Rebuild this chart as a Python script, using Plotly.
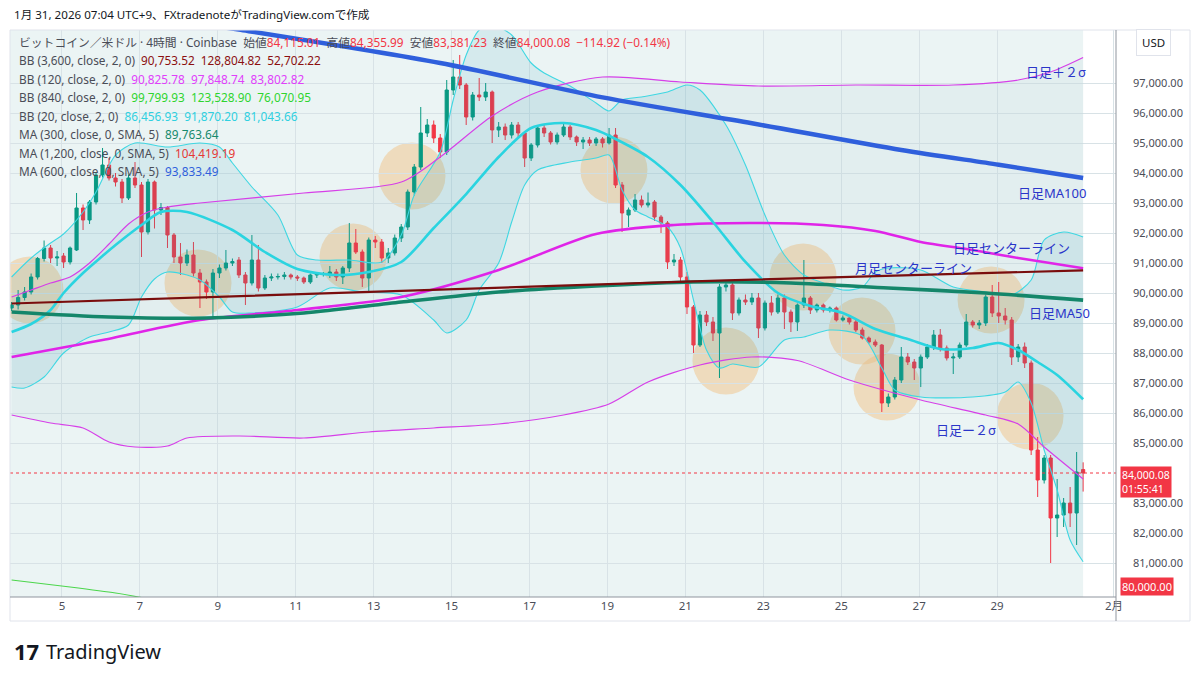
import plotly.graph_objects as go
import pandas as pd

# ---------------- data ----------------
bar_times = pd.date_range("2026-01-03 17:00", periods=166, freq="4h")

opens = [89500,
 89600,89850,90034,90534,91150,91500,91167,91234,91034,91434,
 92834,92434,93034,93934,94267,93834,93700,93167,93834,93600,
 92034,93700,92767,92850,91934,91200,91000,91267,90667,90367,
 90034,90667,90834,91000,91100,90600,90334,91100,90167,90500,
 90534,90550,90600,90534,90500,90367,90600,90634,90600,90700,
 90534,90834,91667,91367,90500,91767,91700,91167,91334,91834,
 92200,93367,94200,95334,95600,95167,94700,96767,97200,96934,
 95867,96600,96534,96700,95434,95534,95267,95600,95334,94500,
 94934,95500,95334,95034,95267,95534,95200,95034,95100,95000,
 95134,95000,95267,93600,92600,92767,93100,92934,93034,92534,
 92334,91034,91100,90534,89534,88267,89267,89034,88667,90200,
 90267,89334,89767,89700,89834,88834,89667,89367,89834,89367,
 89034,89600,89834,89434,89600,89434,89500,89100,89167,89034,
 88767,88500,88367,88267,86334,86534,87100,87867,87700,87500,
 87867,88200,88600,88167,87834,87867,88267,89034,88934,89000,
 89867,89334,89234,89100,87867,88200,87667,84767,83767,84500,
 82500,82600,83000,82667,84115.01]
highs = [89700,
 90100,90200,90650,91200,91750,91600,91400,91334,91550,93334,
 92950,93100,94000,94834,94500,94000,93800,93950,94367,93700,
 93800,93750,93000,92900,92000,91667,91450,91700,90800,90450,
 90800,90950,91434,91150,91200,90700,91934,91600,90600,90650,
 90650,90700,90650,90600,90550,90650,90700,90700,90900,90800,
 90900,92334,92134,91450,91850,91900,91800,91500,91950,92300,
 93450,94300,96200,95800,95750,95300,97100,97767,97934,97000,
 96700,97167,97000,96750,95700,95650,95700,95700,95400,95000,
 95600,95600,95400,95350,95650,95600,95250,95200,95200,95200,
 95200,95500,95500,93700,92850,93300,93250,93350,93100,92600,
 92400,91300,91200,90700,89600,89400,89400,89200,90300,90400,
 90350,89850,89950,90000,90000,89750,89900,89950,89950,89450,
 89650,91100,89900,89650,89650,89550,89550,89250,89200,89100,
 88850,88550,88450,88300,86650,87200,88200,88000,87800,87950,
 88300,88767,88800,88250,88000,88350,89300,89100,89100,89950,
 90267,90367,89500,89200,88300,88350,87750,85200,84600,84600,
 83800,83167,83534,84700,84355.99]
lows = [89400,
 89450,89750,89950,90450,91050,91000,90900,90834,90950,91400,
 92100,92300,92950,93850,93750,93550,93000,93100,93500,91200,
 91950,92150,92600,91500,91000,90600,90900,90550,89500,89800,
 89200,90500,90750,90900,90500,89600,90250,90050,90100,90400,
 90450,90450,90450,90400,90300,90300,90500,90550,90500,90400,
 90300,90700,91300,90200,90050,91500,91000,91000,91250,91700,
 92100,93250,94100,95200,95000,94500,94600,96600,96800,95600,
 95750,96400,96400,95000,95200,95100,95150,95200,94200,94400,
 94850,95200,94950,94950,95200,95100,94900,94800,94900,94900,
 94850,94950,93500,92034,92200,92700,92850,92850,92400,92000,
 90800,90900,90400,89300,88000,88200,88900,88400,87167,90050,
 89100,89250,89600,89600,88500,88750,89250,89300,88800,88700,
 88734,89500,89300,89350,89350,89350,89050,89050,88950,88700,
 88450,88300,88200,86034,86200,86450,87000,87600,87100,86867,
 87800,88100,88050,87750,87300,87800,88200,88850,88800,88900,
 89200,89000,88950,87600,87700,87500,84600,83200,83650,81000,
 81867,82200,82200,81600,83381.23]
closes = [89600,
 89850,90034,90534,91150,91500,91167,91200,91034,91500,92834,
 92434,93034,93934,94267,93834,93700,93167,93834,93600,92034,
 93700,92767,92850,91934,91200,91000,91267,90667,90367,90034,
 90667,90834,91000,91050,90600,90334,91100,90167,90500,90534,
 90550,90600,90534,90500,90367,90600,90634,90650,90700,90534,
 90834,91667,91367,90500,91767,91700,91167,91334,91834,92200,
 93367,94200,95334,95600,95167,94700,96767,97200,96934,95867,
 96600,96534,96700,95434,95534,95267,95600,95334,94500,94934,
 95500,95334,95034,95267,95534,95200,95034,95100,95000,95134,
 95000,95267,93600,92667,92767,93100,92934,93000,92534,92334,
 91034,91100,90534,89534,88267,89267,89034,88667,90200,90267,
 89334,89767,89700,89834,88834,89667,89367,89834,89367,89034,
 89600,89834,89434,89600,89434,89500,89100,89167,89034,88767,
 88500,88367,88267,86334,86534,87100,87867,87700,87500,87867,
 88200,88600,88167,87834,87867,88267,89034,88934,89000,89867,
 89334,89234,89100,87867,88200,87667,84767,83767,84500,82500,
 82600,83000,82667,84034,84000.08]

# indicator readings (bar index -> price)
ma600_idx = [0, 35, 66, 91, 114, 137, 152, 165]
ma600_val = [99930, 98780, 97667, 96520, 95657, 94767, 94277, 93834]

bb3600_mid_idx = [0, 60, 110, 165]
bb3600_mid_val = [89650, 90070, 90420, 90754]

ma300_idx = [0, 15, 30, 45, 60, 75, 90, 105, 120, 135, 150, 165]
ma300_val = [89367, 89200, 89167, 89334, 89700, 90034, 90234, 90367, 90334, 90167, 90000, 89764]

bb120_mid_idx = [0, 14, 29, 44, 60, 75, 90, 102, 114, 125, 133, 140, 148, 155, 165]
bb120_mid_val = [87867, 88434, 89100, 89434, 89867, 90767, 91967, 92267, 92334, 92267, 92067, 91700, 91434, 91167, 90826]

bb120_up_idx = [0, 3, 6, 9, 12, 15, 18, 21, 24, 29, 45, 60, 66, 74, 81, 91, 103, 115, 130, 145, 155, 160, 165]
bb120_up_val = [89867, 90100, 90334, 90534, 91000, 91634, 92300, 92700, 92867, 93000, 93334, 93700, 94534, 95900, 96700, 97200, 97034, 96900, 96934, 96934, 97100, 97367, 97849]

bb120_lo_idx = [0, 6, 11, 15, 19, 24, 27, 35, 45, 55, 65, 75, 85, 92, 98, 106, 114, 121, 129, 140, 150, 155, 159, 165]
bb120_lo_val = [85934, 85667, 85500, 85034, 84867, 84900, 85167, 85234, 85167, 85367, 85500, 85634, 85934, 86300, 87034, 87600, 87867, 87750, 87100, 86434, 85934, 85634, 84867, 83803]

bb20_mid_idx = [0, 3, 6, 8, 11, 14, 16, 20, 23, 27, 34, 39, 44, 50, 55, 60, 65, 70, 75, 80, 85, 90, 93, 98, 103, 108, 113, 118, 123, 128, 133, 138, 143, 148, 152, 155, 158, 161, 165]
bb20_mid_val = [88700, 88967, 89434, 90000, 90667, 91234, 91600, 92267, 92700, 92700, 92100, 91367, 90800, 90600, 90700, 91034, 92167, 93300, 94534, 95500, 95667, 95434, 95134, 94534, 93600, 92367, 91034, 90000, 89567, 89334, 88800, 88467, 88134, 88167, 88334, 88100, 87700, 87267, 86457]

bb20_up_idx = [0, 3, 6, 8, 11, 13, 16, 19, 24, 29, 32, 34, 37, 41, 44, 47, 52, 57, 60, 62, 66, 68, 70, 72, 74, 77, 80, 82, 86, 90, 92, 94, 97, 101, 104, 106, 110, 113, 116, 119, 122, 125, 128, 131, 133, 135, 140, 145, 150, 154, 157, 159, 162, 165]
bb20_up_val = [90534, 91167, 91667, 91967, 92700, 93367, 94600, 95000, 94867, 95000, 94867, 94334, 93534, 92600, 91267, 91100, 91100, 91034, 91934, 93267, 94700, 96434, 97934, 98767, 98934, 98600, 97667, 97334, 96900, 96334, 96067, 96434, 96534, 96700, 96934, 96767, 95600, 94267, 92600, 91267, 90600, 90334, 90100, 90200, 90700, 90834, 90767, 90200, 90034, 89934, 90434, 91767, 92034, 91870]

bb20_lo_idx = [0, 2, 5, 8, 12, 15, 18, 20, 22, 24, 27, 29, 32, 34, 37, 44, 49, 54, 60, 65, 67, 70, 72, 75, 77, 79, 81, 86, 90, 92, 94, 96, 98, 101, 103, 105, 107, 109, 111, 115, 119, 122, 126, 131, 134, 136, 140, 148, 153, 155, 157, 159, 161, 163, 165]
bb20_lo_val = [86867, 86834, 87200, 88000, 88534, 88700, 88934, 89867, 90467, 90700, 90600, 90434, 89867, 89367, 89334, 89534, 90167, 90034, 89934, 89100, 88667, 89100, 90100, 91000, 92367, 93600, 94100, 94367, 94500, 94600, 93434, 92767, 92534, 92200, 91500, 89767, 88100, 87500, 87634, 87534, 88434, 88534, 88767, 88567, 87500, 86767, 86534, 86534, 86700, 87034, 86334, 84767, 83434, 81767, 81044]

bb840_lo_idx = [0, 9, 16, 20]
bb840_lo_val = [80434, 80200, 80000, 79850]

circle_time = ["2026-01-04 04:18", "2026-01-08 11:48", "2026-01-12 11:18", "2026-01-13 23:36",
               "2026-01-19 04:00", "2026-01-22 01:00", "2026-01-24 00:30", "2026-01-25 12:48",
               "2026-01-26 04:12", "2026-01-28 20:18", "2026-01-29 20:18"]
circle_price = [90100, 90334, 91200, 93900, 94100, 87734, 90534, 88734, 86867, 89767, 85900]

day_ticks = ["2026-01-05", "2026-01-07", "2026-01-09", "2026-01-11", "2026-01-13", "2026-01-15",
             "2026-01-17", "2026-01-19", "2026-01-21", "2026-01-23", "2026-01-25", "2026-01-27",
             "2026-01-29", "2026-02-01"]
day_labels = ["5", "7", "9", "11", "13", "15", "17", "19", "21", "23", "25", "27", "29", "2月"]
price_ticks = [81000, 82000, 83000, 85000, 86000, 87000, 88000, 89000, 90000, 91000, 92000,
               93000, 94000, 95000, 96000, 97000]
last_price = 84000.08

# ---------------- figure ----------------
FONT = "Noto Sans, Noto Sans CJK JP, sans-serif"
PAGE = 8                      # default body margin of the page
W, H = 1199 - PAGE, 680 - PAGE
L, R, T, B = 10 - PAGE, 83, 30 - PAGE, 83
PW, PH = 1106, 567            # plot area in pixels


def px(x):
    return (x - 10) / PW


def py(y):
    return 1 - (y - 30) / PH


def pick(idx, vals):
    return [bar_times[i] for i in idx], vals


fig = go.Figure()


def band_fill(lo_idx, lo_val, up_idx, up_val, color):
    xl, yl = pick(lo_idx, lo_val)
    xu, yu = pick(up_idx, up_val)
    fig.add_trace(go.Scatter(x=xl, y=yl, mode="lines", line=dict(width=0, shape="spline", smoothing=0.8),
                             hoverinfo="skip"))
    fig.add_trace(go.Scatter(x=xu, y=yu, mode="lines", line=dict(width=0, shape="spline", smoothing=0.8),
                             fill="tonexty", fillcolor=color, hoverinfo="skip"))


band_fill(bb120_lo_idx, bb120_lo_val, bb120_up_idx, bb120_up_val, "rgba(120,170,185,0.07)")
band_fill(bb20_lo_idx, bb20_lo_val, bb20_up_idx, bb20_up_val, "rgba(20,150,175,0.10)")

fig.add_trace(go.Candlestick(
    x=bar_times, open=opens, high=highs, low=lows, close=closes,
    increasing=dict(line=dict(color="#089981", width=1), fillcolor="#089981"),
    decreasing=dict(line=dict(color="#f23645", width=1), fillcolor="#f23645"),
    whiskerwidth=0, hoverinfo="skip"))


def line(idx, vals, color, width):
    xs, ys = pick(idx, vals)
    fig.add_trace(go.Scatter(x=xs, y=ys, mode="lines",
                             line=dict(color=color, width=width, shape="spline", smoothing=0.8),
                             hoverinfo="skip"))


line(bb840_lo_idx, bb840_lo_val, "#4cd64c", 1.2)
line(bb20_up_idx, bb20_up_val, "#3fd7e2", 1.1)
line(bb20_lo_idx, bb20_lo_val, "#3fd7e2", 1.1)
line(bb120_up_idx, bb120_up_val, "#d63fe8", 1.2)
line(bb120_lo_idx, bb120_lo_val, "#d63fe8", 1.2)
line(bb120_mid_idx, bb120_mid_val, "#e024e8", 2.6)
line(bb20_mid_idx, bb20_mid_val, "#2ad4e0", 2.6)
line(ma300_idx, ma300_val, "#14866a", 3.6)
line(bb3600_mid_idx, bb3600_mid_val, "#7a0d0d", 2.2)
line(ma600_idx, ma600_val, "#2f5fdc", 4.5)

shapes = []
shapes.append(dict(type="rect", xref="x", yref="paper", x0="2026-01-03 10:00", x1=bar_times[-1],
                   y0=0, y1=1, fillcolor="#ebf4f4", line=dict(width=0), layer="below"))
for t, p in zip(circle_time, circle_price):
    shapes.append(dict(type="circle", xref="x", yref="y", xsizemode="pixel", ysizemode="pixel",
                       xanchor=t, yanchor=p, x0=-33.5, x1=33.5, y0=-33.5, y1=33.5,
                       fillcolor="rgba(242,188,122,0.45)", line=dict(width=0), layer="below"))
shapes.append(dict(type="line", xref="paper", yref="y", x0=0, x1=1, y0=last_price, y1=last_price,
                   line=dict(color="#f23645", width=1, dash="dot")))
shapes.append(dict(type="rect", xref="paper", yref="paper", x0=px(10), x1=px(1190), y0=py(30), y1=py(621),
                   line=dict(color="#e0e3eb", width=1)))
shapes.append(dict(type="line", xref="paper", yref="paper", x0=1, x1=1, y0=py(30), y1=py(621),
                   line=dict(color="#8f959e", width=1)))
shapes.append(dict(type="line", xref="paper", yref="paper", x0=0, x1=1, y0=0, y1=0,
                   line=dict(color="#8f959e", width=1)))

ann = []


def text(x, y, s, size=12.5, color="#4a4d57", xanchor="left", **kw):
    ann.append(dict(x=px(x), y=py(y), xref="paper", yref="paper", text=s, showarrow=False,
                    xanchor=xanchor, yanchor="middle", font=dict(size=size, color=color, family=FONT), **kw))


def c(s, col):
    return f"<span style='color:{col}'>{s}</span>"


sp = "\u00a0"
RED = "#f23645"
text(12, 15, "1月 31, 2026 07:04 UTC+9、FXtradenoteがTradingView.comで作成", size=11.6, color="#131722")
text(17, 42, "ビットコイン／米ドル · 4時間 · Coinbase" + sp * 2 + "始値" + c("84,115.01", RED) + sp * 2 +
     "高値" + c("84,355.99", RED) + sp * 2 + "安値" + c("83,381.23", RED) + sp * 2 + "終値" +
     c("84,000.08", RED) + sp * 2 + c("−114.92 (−0.14%)", RED), size=11.8)
legend_rows = [
    ("BB (3,600, close, 2, 0)", ["90,753.52", "128,804.82", "52,702.22"], "#8b1010"),
    ("BB (120, close, 2, 0)", ["90,825.78", "97,848.74", "83,802.82"], "#e040fb"),
    ("BB (840, close, 2, 0)", ["99,799.93", "123,528.90", "76,070.95"], "#2fd42f"),
    ("BB (20, close, 2, 0)", ["86,456.93", "91,870.20", "81,043.66"], "#2fd0e0"),
    ("MA (300, close, 0, SMA, 5)", ["89,763.64"], "#168a6c"),
    ("MA (1,200, close, 0, SMA, 5)", ["104,419.19"], "#e53935"),
    ("MA (600, close, 0, SMA, 5)", ["93,833.49"], "#2f5fdc"),
]
for j, (lab, vals, col) in enumerate(legend_rows):
    s = lab + sp * 2 + (sp * 2).join(c(v, col) for v in vals)
    text(17, 60 + j * 18.55, s, size=11.8)

BLUE = "#2a35c9"
text(1088, 72, "日足＋２σ", size=13, color=BLUE, xanchor="right")
text(1088, 193, "日足MA100", size=13, color=BLUE, xanchor="right")
text(1072, 248, "日足センターライン", size=13, color=BLUE, xanchor="right")
text(974, 268, "月足センターライン", size=13, color=BLUE, xanchor="right")
text(1092, 313, "日足MA50", size=13, color=BLUE, xanchor="right")
text(998, 430, "日足ー２σ", size=13, color=BLUE, xanchor="right")

text(1153, 43, "USD", size=11.5, color="#131722", xanchor="center", bgcolor="white", bordercolor="#e0e3eb",
     borderwidth=1, borderpad=5)
ann.append(dict(x=px(1120), y=py(466), xref="paper", yref="paper", text="84,000.08<br>01:55:41", showarrow=False,
                xanchor="left", yanchor="top", align="left", bgcolor=RED, borderpad=1,
                font=dict(size=10.5, color="white", family=FONT)))
text(1120, 586, "80,000.00", size=11, color="white", bgcolor=RED, borderpad=1)

text(12, 651, "<b>17</b>", size=22, color="#131722")
text(44, 651, "TradingView", size=20, color="#131722")

fig.update_layout(
    width=W, height=H, margin=dict(l=L, r=R, t=T, b=B),
    paper_bgcolor="white", plot_bgcolor="white", showlegend=False,
    font=dict(family=FONT),
    shapes=shapes, annotations=ann,
    xaxis=dict(type="date", range=["2026-01-03 16:00", "2026-02-01 01:15"], tickvals=day_ticks,
               ticktext=day_labels, showgrid=True, gridcolor="#d8e2e6", gridwidth=1, zeroline=False,
               showline=False, ticks="", tickfont=dict(size=11.5, color="#4a4d57"),
               rangeslider=dict(visible=False), fixedrange=True),
    yaxis=dict(side="right", range=[79867, 98767], tickvals=price_ticks, tickformat=",.2f",
               showgrid=True, gridcolor="#d8e2e6", gridwidth=1, zeroline=False, showline=False,
               ticks="", ticklabelstandoff=16, tickfont=dict(size=11, color="#4a4d57"), fixedrange=True),
)

fig.write_html("out.html")
